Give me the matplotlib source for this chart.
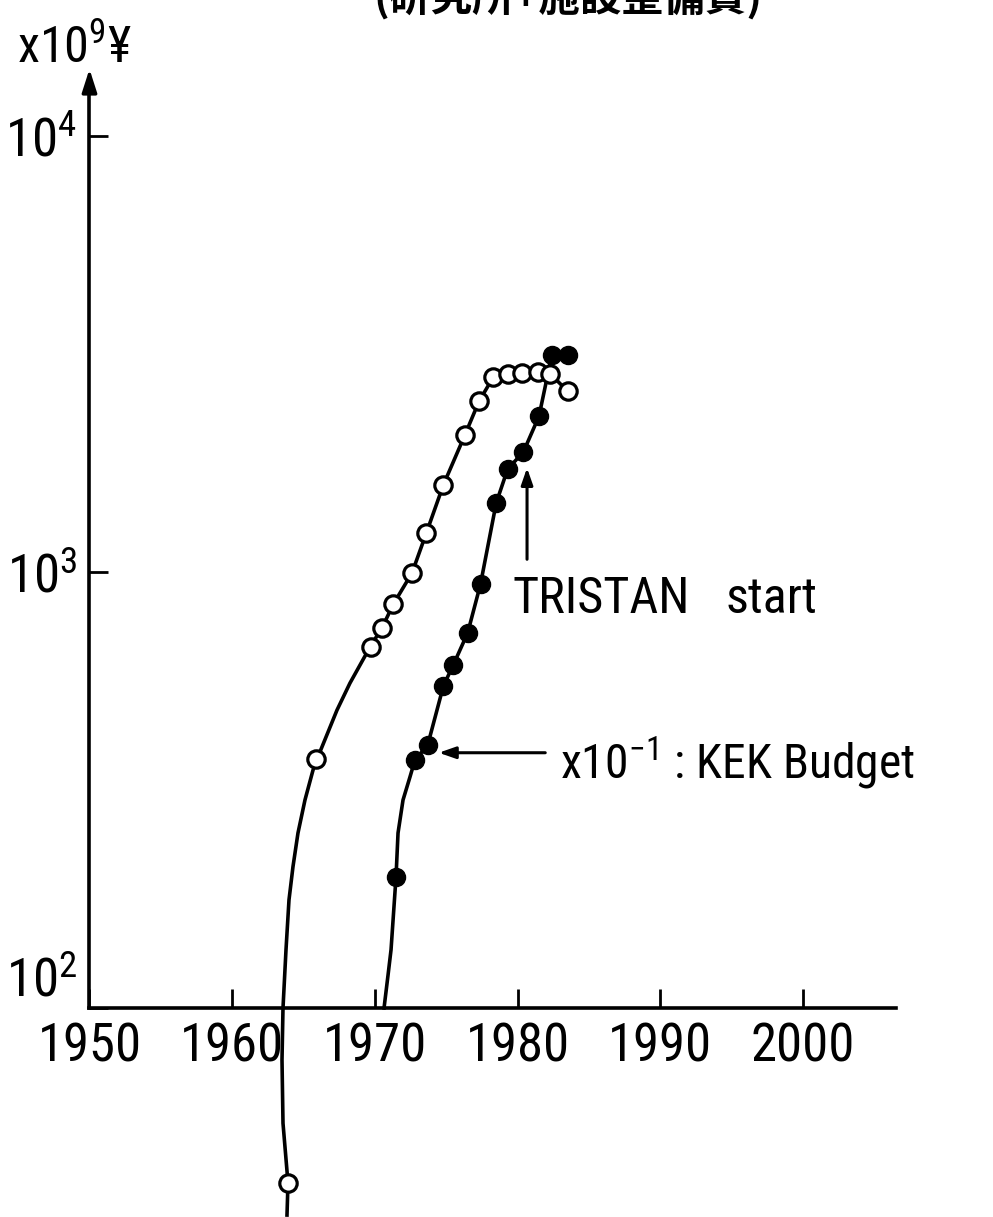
import matplotlib
matplotlib.use("Agg")
import matplotlib.pyplot as plt
from matplotlib import font_manager
from matplotlib.font_manager import FontProperties
from matplotlib.textpath import TextPath

"""1. Data read off the chart"""

# open circles: research institutes + facilities budget (x10^9 yen)
open_years = [1963.9, 1965.9, 1969.7, 1970.5, 1971.3, 1972.6, 1973.6, 1974.8,
              1976.3, 1977.3, 1978.3, 1979.3, 1980.3, 1981.4, 1982.3, 1983.5]
open_values = [39.7, 372, 673, 745, 845, 995, 1228, 1585,
               2060, 2466, 2800, 2845, 2858, 2876, 2845, 2600]

# hand drawn curve through the open circles (lower part)
open_curve_years = [1963.84, 1963.91, 1963.56, 1963.49, 1963.56, 1963.77, 1963.98,
                    1964.26, 1964.61, 1965.10, 1965.66, 1965.94, 1967.34, 1968.25,
                    1969.66] + open_years[3:]
open_curve_values = [33.5, 39.7, 54.4, 76.0, 100, 136, 177,
                     211, 252, 300, 351, 372, 482, 556,
                     673] + open_values[3:]

# filled circles: KEK budget x 10^-1
kek_years = [1971.5, 1972.8, 1973.7, 1974.8, 1975.5, 1976.5, 1977.4,
             1978.5, 1979.3, 1980.4, 1981.5, 1982.4, 1983.5]
kek_values = [200, 370, 401, 548, 613, 725, 938,
              1440, 1722, 1884, 2278, 3149, 3149]

kek_curve_years = [1970.64, 1970.92, 1971.13, 1971.48, 1971.62, 1971.97, 1972.46] + kek_years[1:]
kek_curve_values = [100, 119, 136, 200, 252, 300, 339] + kek_values[1:]

x_ticks = [1950, 1960, 1970, 1980, 1990, 2000]
y_ticks = [1e2, 1e3, 1e4]
y_tick_labels = [r"$10^{2}$", r"$10^{3}$", r"$10^{4}$"]


"""2. Fonts: look for a narrow face, the original lettering is condensed"""

name, stretch = 'Liberation Sans', 'normal'
prefer = ['Liberation Sans Narrow', 'Roboto Condensed', 'Noto Sans', 'DejaVu Sans',
          'Open Sans', 'Roboto', 'Liberation Sans']
found = {}
for f in font_manager.fontManager.ttflist:
    if f.style == 'normal' and f.weight in (400, 'normal', 'regular') \
            and str(f.stretch) in ('condensed', 'semi-condensed', 'extra-condensed'):
        found.setdefault(f.name, f.stretch)
for p in prefer:
    if p in found:
        name, stretch = p, found[p]
        break

plt.rcParams['font.family'] = [name, 'DejaVu Sans']
plt.rcParams['font.stretch'] = stretch
plt.rcParams['mathtext.fontset'] = 'custom'
plt.rcParams['mathtext.rm'] = f"{name}:stretch={stretch}"
plt.rcParams['mathtext.it'] = f"{name}:stretch={stretch}"
plt.rcParams['mathtext.bf'] = f"{name}:stretch={stretch}"

# shrink sizes if the face is wider than the original lettering ("1950" ~ 97 px wide)
probe = TextPath((0, 0), "1950", size=40, prop=FontProperties(family=name, stretch=stretch))
w_px = probe.get_extents().width * 100 / 72
k = min(1.0, 97 / w_px)
fs_tick = 40 * k
fs_text = 38 * k


"""3. Plot"""

fig = plt.figure(figsize=(9.93, 12.17), dpi=100)
ax = fig.add_axes([0, 0, 1, 1])
ax.set_yscale('log')
ax.set_xlim(1943.73, 2013.31)
ax.set_ylim(10 ** 1.5206, 10 ** 4.312)

ax.plot(open_curve_years, open_curve_values, color='black', lw=2.6, zorder=2)
ax.plot(open_years, open_values, 'o', ms=12.5, mfc='white', mec='black', mew=2.3, zorder=3)

ax.plot(kek_curve_years, kek_curve_values, color='black', lw=2.6, zorder=2)
ax.plot(kek_years, kek_values, 'o', ms=13, mfc='black', mec='black', zorder=3)

# axes drawn as in the original: crossing at (1950, 10^2)
for s in ['top', 'right']:
    ax.spines[s].set_visible(False)
ax.spines['left'].set_position(('data', 1950))
ax.spines['bottom'].set_position(('data', 100))
ax.spines['left'].set_bounds(100, 10 ** 4.12)
ax.spines['bottom'].set_bounds(1950, 2006.5)
ax.spines['left'].set_linewidth(2.6)
ax.spines['bottom'].set_linewidth(2.6)

ax.set_xticks(x_ticks)
ax.set_xticklabels([str(t) for t in x_ticks])
ax.set_yticks(y_ticks)
ax.set_yticklabels(y_tick_labels)
ax.minorticks_off()
ax.tick_params(axis='x', direction='in', length=14, width=2, pad=10, labelsize=fs_tick)
ax.tick_params(axis='y', direction='in', length=14, width=2, pad=9, labelsize=fs_tick)
ax.get_yticklabels()[0].set_va('bottom')

# arrow head on the y axis
ax.annotate('', xy=(1950, 10 ** 4.16), xytext=(1950, 10 ** 4.10),
            arrowprops=dict(arrowstyle='-|>,head_length=1.4,head_width=0.45',
                            color='black', lw=2.4))

ax.text(0.017, 0.948, r"x$10^{9}$¥", transform=ax.transAxes, fontsize=fs_text,
        ha='left', va='baseline')

# TRISTAN start
ax.annotate('', xy=(1980.66, 1758), xytext=(1980.66, 1054),
            arrowprops=dict(arrowstyle='-|>,head_length=1.0,head_width=0.35',
                            color='black', lw=2.2))
ax.text(1979.64, 805, "TRISTAN", fontsize=fs_text, ha='left', va='baseline')
ax.text(1994.56, 805, "start", fontsize=fs_text, ha='left', va='baseline')

# KEK budget
ax.annotate('', xy=(1974.28, 385), xytext=(1982.13, 385),
            arrowprops=dict(arrowstyle='-|>,head_length=1.0,head_width=0.35',
                            color='black', lw=2.2))
ax.text(1982.95, 337, r"x$10^{-1}$ : KEK Budget", fontsize=fs_text * 0.95,
        ha='left', va='baseline')

# title cut off at the top of the scan
fig.text(0.572, 1 + 1 / 1217, "(研究所+施設整備費)", fontsize=30, fontweight='bold',
         ha='center', va='center', family=['Noto Sans CJK JP', 'DejaVu Sans'])

plt.savefig('out.png', dpi=100)
plt.close()
